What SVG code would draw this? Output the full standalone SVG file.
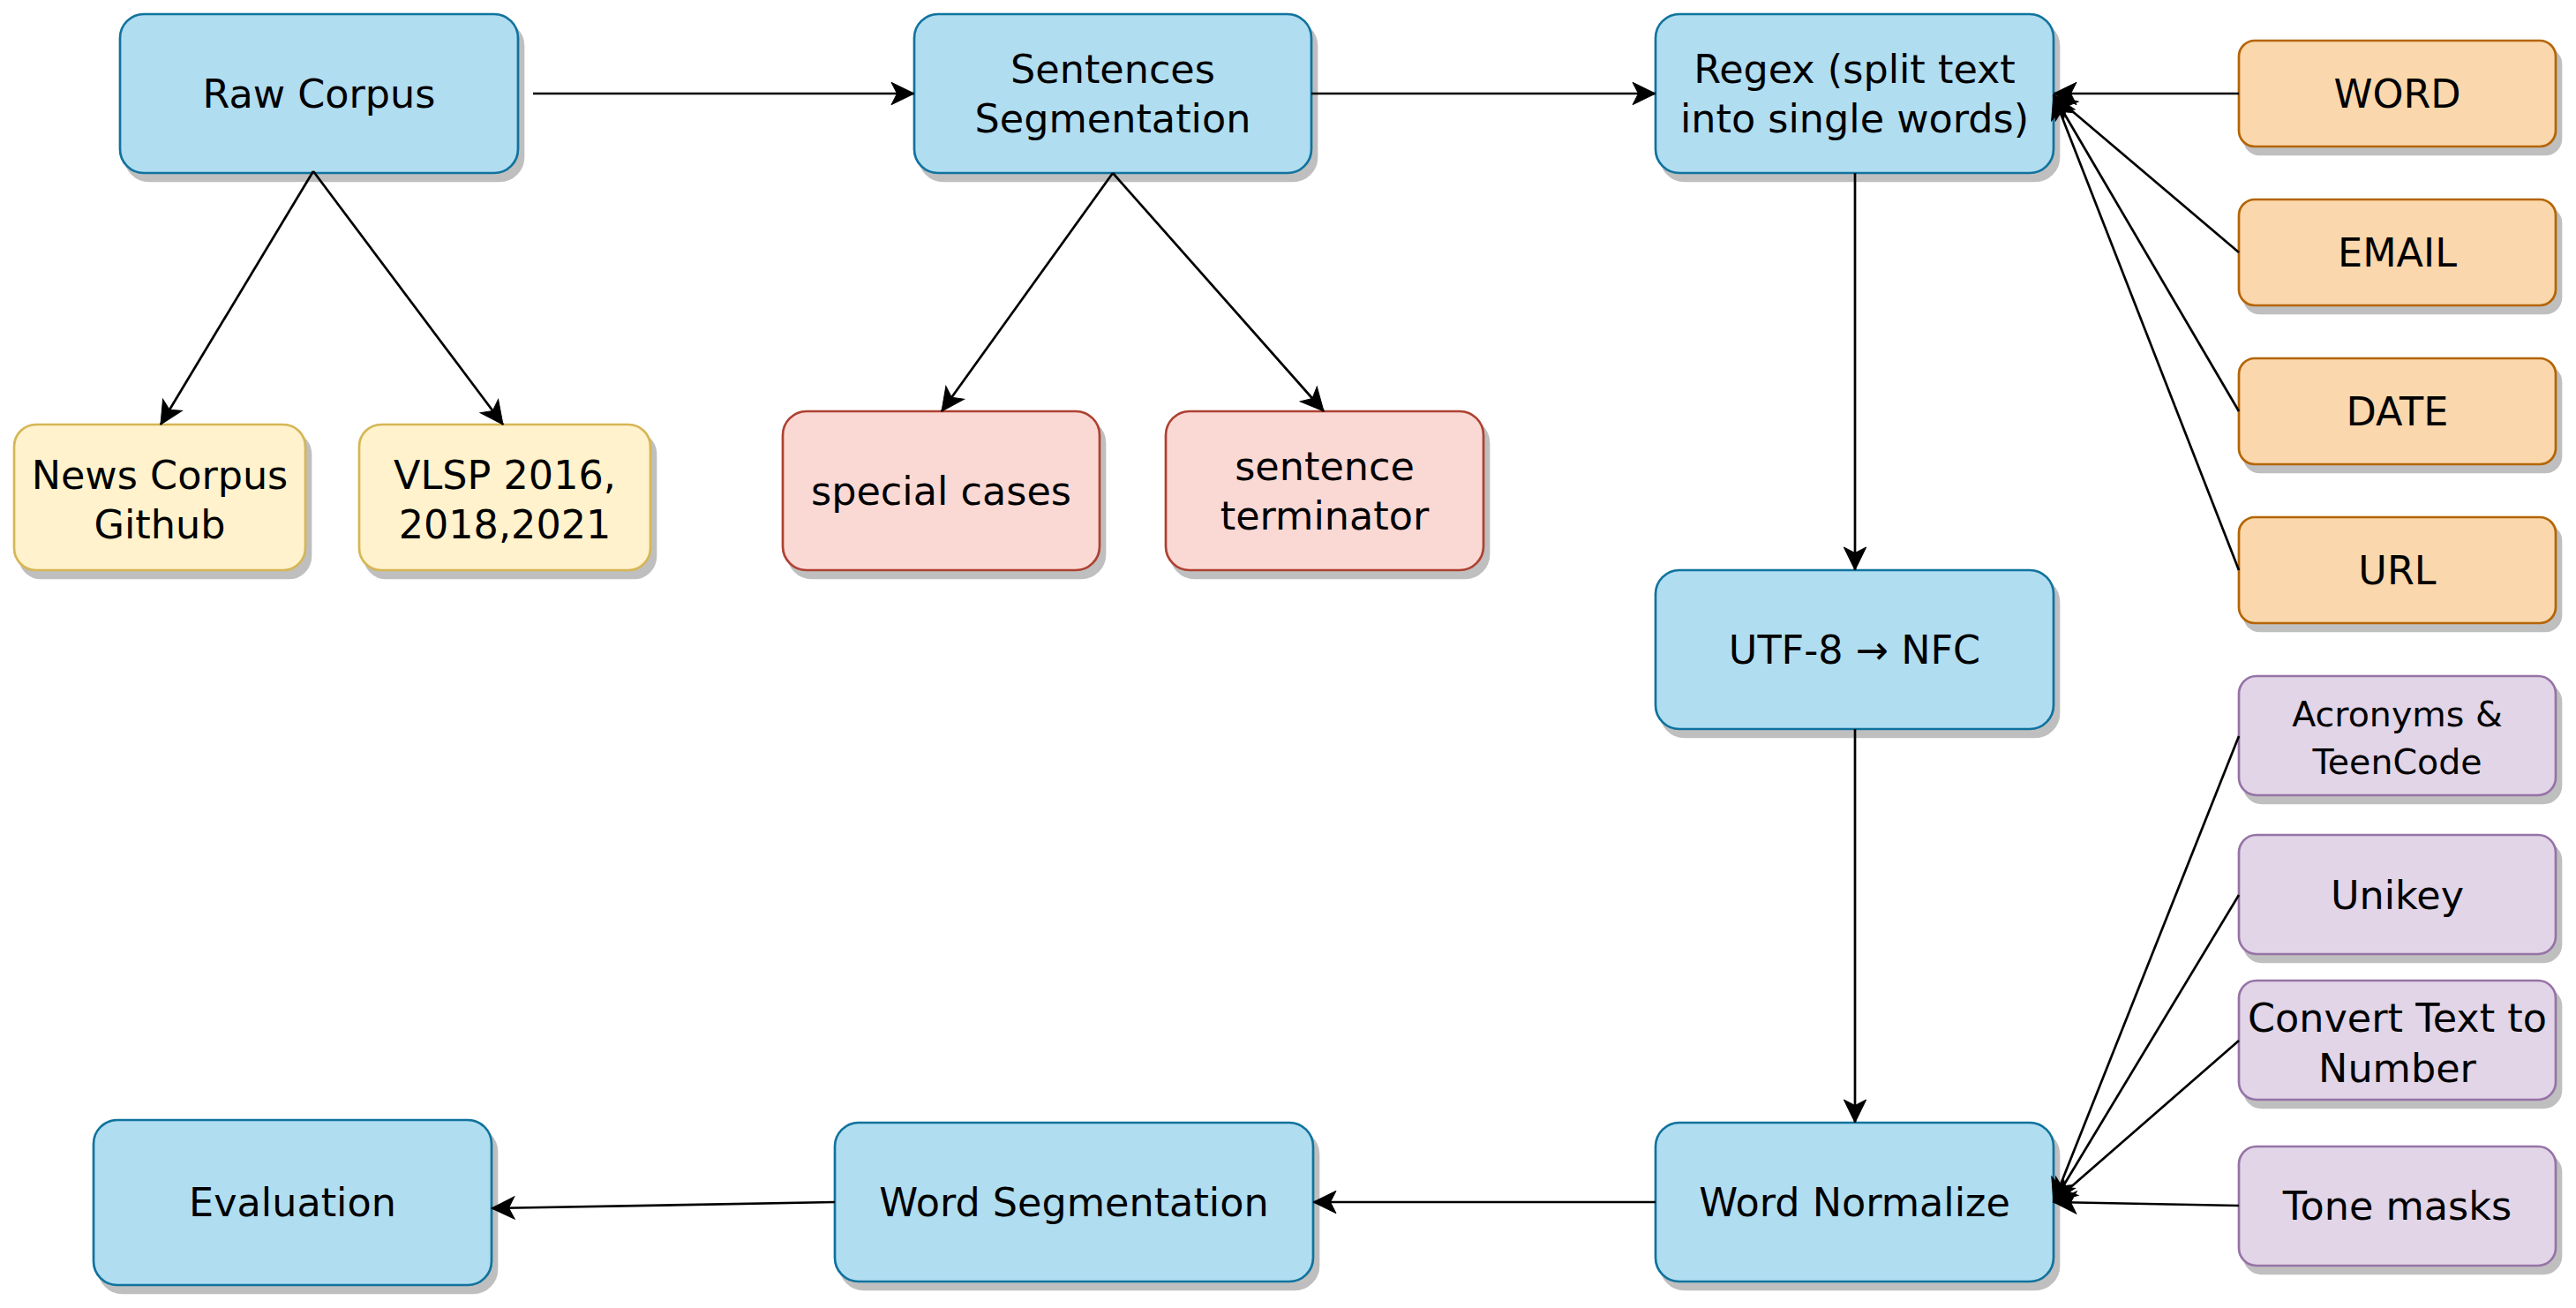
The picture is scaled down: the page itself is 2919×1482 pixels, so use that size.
<svg xmlns="http://www.w3.org/2000/svg" width="2919" height="1482" viewBox="0 0 2919 1482">
<defs>
<style>
.n rect.s{fill:#bfbfbf;stroke:#bfbfbf;stroke-width:2.7}
.n rect.b{stroke-width:2.7}
.blue rect.b{fill:#b1ddf0;stroke:#10739e}
.yel rect.b{fill:#fff2cc;stroke:#d6b656}
.red rect.b{fill:#fad9d5;stroke:#ae4132}
.org rect.b{fill:#fad7ac;stroke:#b46504}
.pur rect.b{fill:#e1d5e7;stroke:#9673a6}
text{font-family:"DejaVu Sans","Liberation Sans",sans-serif;font-size:44.5px;fill:#000;text-anchor:middle}
text.sm{font-size:39.5px}
#edges path{fill:none;stroke:#000;stroke-width:2.7;marker-end:url(#arr)}
</style>
<marker id="arr" markerUnits="userSpaceOnUse" viewBox="-28 -14 30 28" refX="0" refY="0" markerWidth="30" markerHeight="28" orient="auto">
<path d="M0,0 L-26,-12.7 L-19.5,0 L-26,12.7 Z" fill="#000" stroke="#000" stroke-width="1"/>
</marker>
</defs>
<rect x="0" y="0" width="2919" height="1482" fill="#fff"/>

<g id="raw-corpus" class="n blue">
<rect class="s" x="142" y="25" width="451" height="180" rx="27"/>
<rect class="b" x="136" y="16" width="451" height="180" rx="27"/>
<text x="361.5" y="122">Raw Corpus</text>
</g>
<g id="sentences-segmentation" class="n blue">
<rect class="s" x="1042" y="25" width="450" height="180" rx="27"/>
<rect class="b" x="1036" y="16" width="450" height="180" rx="27"/>
<text x="1261" y="94">Sentences</text>
<text x="1261" y="150">Segmentation</text>
</g>
<g id="regex" class="n blue">
<rect class="s" x="1882" y="25" width="451" height="180" rx="27"/>
<rect class="b" x="1876" y="16" width="451" height="180" rx="27"/>
<text x="2101.5" y="94">Regex (split text</text>
<text x="2101.5" y="150">into single words)</text>
</g>
<g id="utf8-nfc" class="n blue">
<rect class="s" x="1882" y="655" width="451" height="180" rx="27"/>
<rect class="b" x="1876" y="646" width="451" height="180" rx="27"/>
<text x="2101.5" y="752">UTF-8 → NFC</text>
</g>
<g id="word-normalize" class="n blue">
<rect class="s" x="1882" y="1281" width="451" height="180" rx="27"/>
<rect class="b" x="1876" y="1272" width="451" height="180" rx="27"/>
<text x="2101.5" y="1378">Word Normalize</text>
</g>
<g id="word-segmentation" class="n blue">
<rect class="s" x="952" y="1281" width="542" height="180" rx="27"/>
<rect class="b" x="946" y="1272" width="542" height="180" rx="27"/>
<text x="1217" y="1378">Word Segmentation</text>
</g>
<g id="evaluation" class="n blue">
<rect class="s" x="112" y="1278" width="451" height="187" rx="27"/>
<rect class="b" x="106" y="1269" width="451" height="187" rx="27"/>
<text x="331.5" y="1378">Evaluation</text>
</g>

<g id="news-corpus" class="n yel">
<rect class="s" x="22" y="490" width="330" height="165" rx="25"/>
<rect class="b" x="16" y="481" width="330" height="165" rx="25"/>
<text x="181" y="554">News Corpus</text>
<text x="181" y="610">Github</text>
</g>
<g id="vlsp" class="n yel">
<rect class="s" x="413" y="490" width="330" height="165" rx="25"/>
<rect class="b" x="407" y="481" width="330" height="165" rx="25"/>
<text x="572" y="554">VLSP 2016,</text>
<text x="572" y="610">2018,2021</text>
</g>

<g id="special-cases" class="n red">
<rect class="s" x="893" y="475" width="359" height="180" rx="27"/>
<rect class="b" x="887" y="466" width="359" height="180" rx="27"/>
<text x="1066.5" y="572">special cases</text>
</g>
<g id="sentence-terminator" class="n red">
<rect class="s" x="1327" y="475" width="360" height="180" rx="27"/>
<rect class="b" x="1321" y="466" width="360" height="180" rx="27"/>
<text x="1501" y="544">sentence</text>
<text x="1501" y="600">terminator</text>
</g>

<g id="word" class="n org">
<rect class="s" x="2543" y="55" width="359" height="120" rx="18"/>
<rect class="b" x="2537" y="46" width="359" height="120" rx="18"/>
<text x="2716.5" y="122">WORD</text>
</g>
<g id="email" class="n org">
<rect class="s" x="2543" y="235" width="359" height="120" rx="18"/>
<rect class="b" x="2537" y="226" width="359" height="120" rx="18"/>
<text x="2716.5" y="302">EMAIL</text>
</g>
<g id="date" class="n org">
<rect class="s" x="2543" y="415" width="359" height="120" rx="18"/>
<rect class="b" x="2537" y="406" width="359" height="120" rx="18"/>
<text x="2716.5" y="482">DATE</text>
</g>
<g id="url" class="n org">
<rect class="s" x="2543" y="595" width="359" height="120" rx="18"/>
<rect class="b" x="2537" y="586" width="359" height="120" rx="18"/>
<text x="2716.5" y="662">URL</text>
</g>

<g id="acronyms" class="n pur">
<rect class="s" x="2543" y="775" width="359" height="135" rx="20"/>
<rect class="b" x="2537" y="766" width="359" height="135" rx="20"/>
<text class="sm" x="2716.5" y="823">Acronyms &amp;</text>
<text class="sm" x="2716.5" y="877">TeenCode</text>
</g>
<g id="unikey" class="n pur">
<rect class="s" x="2543" y="955" width="359" height="135" rx="20"/>
<rect class="b" x="2537" y="946" width="359" height="135" rx="20"/>
<text x="2716.5" y="1030">Unikey</text>
</g>
<g id="convert" class="n pur">
<rect class="s" x="2543" y="1120" width="359" height="135" rx="20"/>
<rect class="b" x="2537" y="1111" width="359" height="135" rx="20"/>
<text x="2716.5" y="1169">Convert Text to</text>
<text x="2716.5" y="1226">Number</text>
</g>
<g id="tone-masks" class="n pur">
<rect class="s" x="2543" y="1308" width="359" height="135" rx="20"/>
<rect class="b" x="2537" y="1299" width="359" height="135" rx="20"/>
<text x="2716.5" y="1382">Tone masks</text>
</g>

<g id="edges">
<path d="M604,106 L1036,106"/>
<path d="M1486,106 L1876,106"/>
<path d="M355,194 L182,481"/>
<path d="M355,194 L570,481"/>
<path d="M1261,196 L1067,466"/>
<path d="M1261,196 L1500,466"/>
<path d="M2537,106 L2327,106"/>
<path d="M2537,286 L2327,108"/>
<path d="M2537,466 L2327,108"/>
<path d="M2537,646 L2327,108"/>
<path d="M2102,196 L2102,646"/>
<path d="M2102,826 L2102,1272"/>
<path d="M2537,834 L2327,1362"/>
<path d="M2537,1014 L2327,1362"/>
<path d="M2537,1179 L2327,1362"/>
<path d="M2537,1366 L2327,1362"/>
<path d="M1876,1362 L1488,1362"/>
<path d="M946,1362 L557,1369"/>
</g>
</svg>
